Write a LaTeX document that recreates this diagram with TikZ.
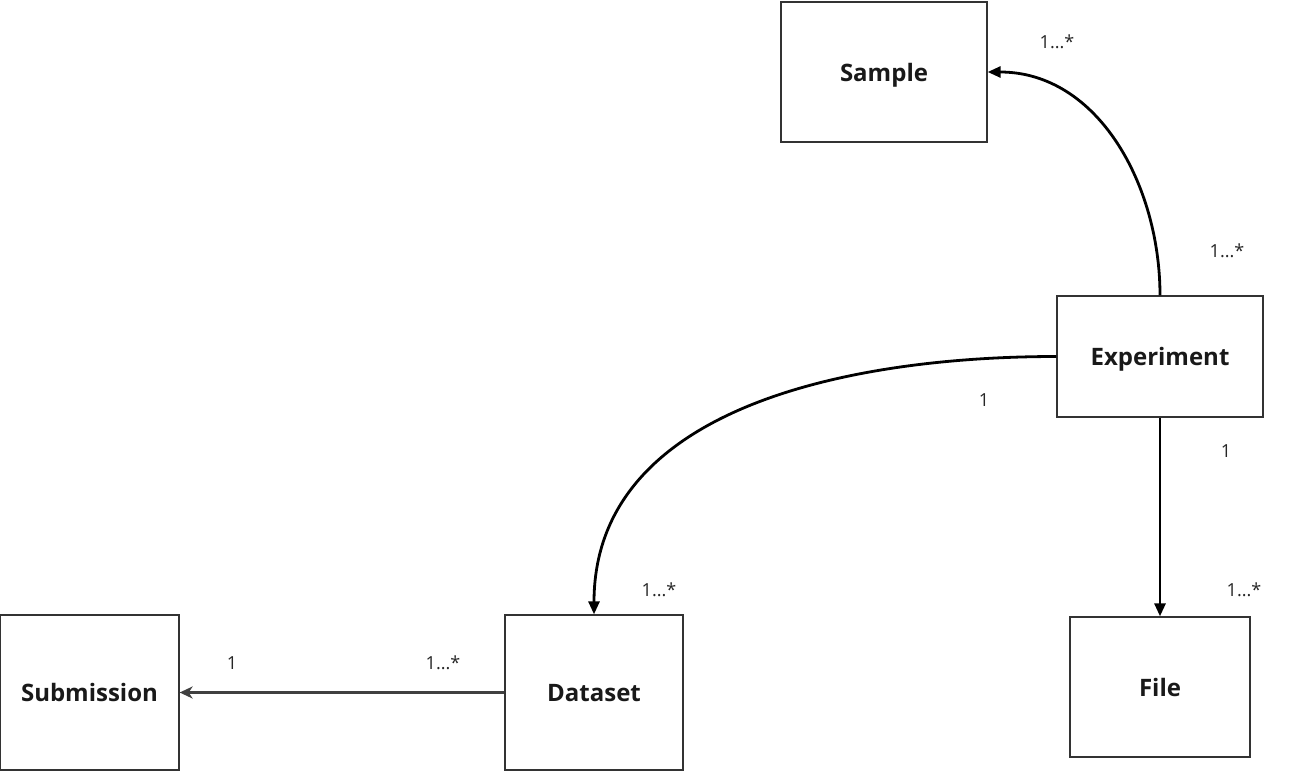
\documentclass[tikz,border=0pt]{standalone}
\usepackage{fontspec}
\setmainfont{Open Sans}
\usetikzlibrary{arrows.meta}
\begin{document}
\begin{tikzpicture}[x=1pt,y=-1pt,
  box/.style={draw=black!80, line width=1.3pt, fill=white, inner sep=0pt, text depth=0pt,
    font=\fontsize{24}{28}\selectfont\bfseries, text=black!90},
  conn/.style={line width=2.8pt, -{Triangle[length=13pt,width=11pt]}},
  card/.style={font=\fontsize{18}{21}\selectfont, text=black!85}]
\useasboundingbox (0,0) rectangle (1296,771);
\node[box, minimum width=206pt, minimum height=140pt] (sample) at (884,72) {Sample};
\node[box, minimum width=206pt, minimum height=121pt] (exp) at (1160,356.5) {Experiment};
\node[box, minimum width=180pt, minimum height=140pt] (file) at (1160,687) {File};
\node[box, minimum width=178pt, minimum height=155pt] (data) at (594,692.5) {Dataset};
\node[box, minimum width=179pt, minimum height=155pt] (sub) at (89.5,692.5) {Submission};
\draw[conn] (exp.north) to[out=90,in=0] (sample.east);
\draw[conn] (exp.west) to[out=180,in=90] (data.north);
\draw[conn] (exp.south) -- (file.north);
\draw[conn, draw=black!75, -{Stealth[length=13pt,width=12pt,inset=4pt]}] (data.west) -- (sub.east);
\node[card] (c1) at (1057,42) {1...*};
\node[card] (c2) at (1227,251) {1...*};
\node[card] (c3) at (984,400) {1};
\node[card] (c4) at (1226,451) {1};
\node[card] (c5) at (659,590) {1...*};
\node[card] (c6) at (1244,590) {1...*};
\node[card] (c7) at (232,663) {1};
\node[card] (c8) at (443,663) {1...*};
\end{tikzpicture}
\end{document}
